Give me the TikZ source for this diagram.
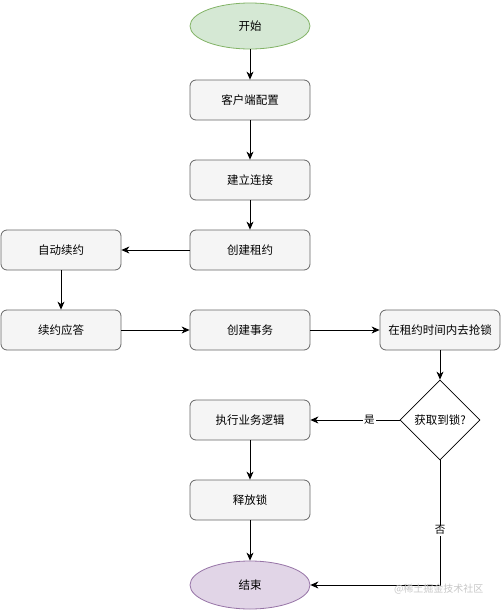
\documentclass[tikz,border=0pt]{standalone}
\usepackage{fontspec}
\newfontfamily\cjk{Noto Sans CJK SC}
\usetikzlibrary{shapes.geometric,arrows.meta}
\definecolor{boxfill}{HTML}{F5F5F5}
\definecolor{boxline}{HTML}{666666}
\definecolor{gfill}{HTML}{D5E8D4}
\definecolor{gline}{HTML}{82B366}
\definecolor{pfill}{HTML}{E1D5E7}
\definecolor{pline}{HTML}{9673A6}
\begin{document}
\begin{tikzpicture}[x=1pt,y=-1pt,
  font=\cjk\fontsize{11.5}{13}\selectfont,
  box/.style={draw=boxline,fill=boxfill,rounded corners=6pt,minimum width=120pt,minimum height=40pt,inner sep=0pt,line width=0.8pt},
  oval/.style={ellipse,minimum width=120pt,minimum height=46pt,inner sep=0pt,line width=0.8pt},
  dec/.style={diamond,draw=black,fill=white,minimum width=80pt,minimum height=80pt,inner sep=0pt,aspect=1,line width=0.8pt},
  arr/.style={-{Stealth[length=8pt,width=7pt,inset=2.5pt]},line width=0.8pt},
  lbl/.style={fill=white,inner sep=1pt,font=\cjk\fontsize{10.5}{12}\selectfont}]
\useasboundingbox (0,0) rectangle (501,611);
\node[oval,draw=gline,fill=gfill] (start) at (250,26) {开始};
\node[box] (cfg) at (250,100) {客户端配置};
\node[box] (conn) at (250,180) {建立连接};
\node[box] (lease) at (250,250) {创建租约};
\node[box] (auto) at (61,250) {自动续约};
\node[box] (resp) at (61,330) {续约应答};
\node[box] (txn) at (250,330) {创建事务};
\node[box] (grab) at (440,330) {在租约时间内去抢锁};
\node[dec] (got) at (440,420) {获取到锁?};
\node[box] (exec) at (250,420) {执行业务逻辑};
\node[box] (rel) at (250,500) {释放锁};
\node[oval,draw=pline,fill=pfill,minimum height=48pt] (end) at (250,585) {结束};
\coordinate (corner) at (440,585);
\draw[arr] (start) -- (cfg);
\draw[arr] (cfg) -- (conn);
\draw[arr] (conn) -- (lease);
\draw[arr] (lease) -- (auto);
\draw[arr] (auto) -- (resp);
\draw[arr] (resp) -- (txn);
\draw[arr] (txn) -- (grab);
\draw[arr] (grab) -- (got);
\draw[arr] (got) -- node[lbl,pos=0.34]{是} (exec);
\draw[arr] (exec) -- (rel);
\draw[arr] (rel) -- (end);
\draw[arr] (got.south) -- node[lbl,pos=0.56]{否} (corner) -- (end);
\node[text=black!22,font=\cjk\fontsize{10}{12}\selectfont,anchor=east] (wm) at (487,589) {@稀土掘金技术社区};
\end{tikzpicture}
\end{document}
